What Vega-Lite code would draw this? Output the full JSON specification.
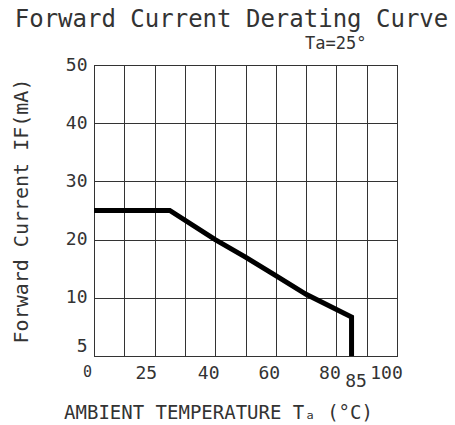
{
  "$schema": "https://vega.github.io/schema/vega-lite/v6.json",
  "width": 303,
  "height": 291,
  "autosize": "none",
  "padding": {"left": 94, "top": 65, "right": 58, "bottom": 69},
  "background": "white",
  "title": {
    "text": "Forward Current Derating Curve",
    "subtitle": "Ta=25°\u00a0\u00a0\u00a0\u00a0\u00a0\u00a0\u00a0\u00a0\u200b",
    "anchor": "end",
    "dx": 46,
    "font": "DejaVu Sans Mono",
    "fontSize": 24,
    "fontWeight": "normal",
    "color": "#333",
    "subtitleFont": "DejaVu Sans Mono",
    "subtitleFontSize": 17,
    "subtitleColor": "#333",
    "subtitlePadding": 4,
    "offset": 4
  },
  "data": {
    "values": [
      {"i": 1, "temp": 0, "current": 25},
      {"i": 2, "temp": 25, "current": 25},
      {"i": 3, "temp": 40, "current": 20},
      {"i": 4, "temp": 50, "current": 17},
      {"i": 5, "temp": 60, "current": 13.8},
      {"i": 6, "temp": 70, "current": 10.6},
      {"i": 7, "temp": 85, "current": 6.7},
      {"i": 8, "temp": 85, "current": 0}
    ]
  },
  "mark": {"type": "line", "color": "black", "strokeWidth": 5, "strokeJoin": "miter", "strokeCap": "butt"},
  "encoding": {
    "order": {"field": "i", "type": "quantitative"},
    "x": {
      "field": "temp",
      "type": "quantitative",
      "scale": {"domain": [0, 100], "nice": false, "zero": false},
      "axis": {
        "title": "AMBIENT TEMPERATURE Tₐ (°C)",
        "values": [0, 10, 20, 25, 30, 40, 50, 60, 70, 80, 85, 90, 100],
        "labelExpr": "indexof([0,25,40,60,80,85,100], datum.value) >= 0 ? datum.label : ''",
        "labelOverlap": false,
        "grid": true,
        "gridColor": "#333",
        "gridWidth": 1,
        "gridOpacity": {"condition": {"test": "datum.value == 25 || datum.value == 85", "value": 0}, "value": 1},
        "ticks": false,
        "domain": false,
        "labelFlush": false,
        "labelFont": "DejaVu Sans Mono",
        "labelFontSize": {"condition": {"test": "datum.value == 0", "value": 15}, "value": 18},
        "labelColor": "#333",
        "labelPadding": {"condition": {"test": "datum.value == 85", "value": 16}, "value": 8},
        "labelOffset": {
          "condition": [
            {"test": "datum.value == 25", "value": -24},
            {"test": "datum.value == 85", "value": 4},
            {"test": "datum.value == 100", "value": -11}
          ],
          "value": -7
        },
        "titleFont": "DejaVu Sans Mono",
        "titleFontSize": 19,
        "titleFontWeight": "normal",
        "titleColor": "#333",
        "titlePadding": 13,
        "titleX": 124
      }
    },
    "y": {
      "field": "current",
      "type": "quantitative",
      "scale": {"domain": [0, 50], "nice": false},
      "axis": {
        "title": "Forward Current IF(mA)",
        "values": [0, 10, 20, 30, 40, 50],
        "labelExpr": "datum.value == 0 ? '5' : datum.label",
        "labelOverlap": false,
        "grid": true,
        "gridColor": "#333",
        "gridWidth": 1,
        "ticks": false,
        "domain": false,
        "labelFlush": false,
        "labelFont": "DejaVu Sans Mono",
        "labelFontSize": 18,
        "labelColor": "#333",
        "labelPadding": 7,
        "labelOffset": {"condition": {"test": "datum.value == 0", "value": -10}, "value": 0},
        "titleFont": "DejaVu Sans Mono",
        "titleFontSize": 20,
        "titleFontWeight": "normal",
        "titleColor": "#333",
        "titlePadding": 34
      }
    }
  },
  "config": {"view": {"stroke": "black", "strokeWidth": 1}}
}
